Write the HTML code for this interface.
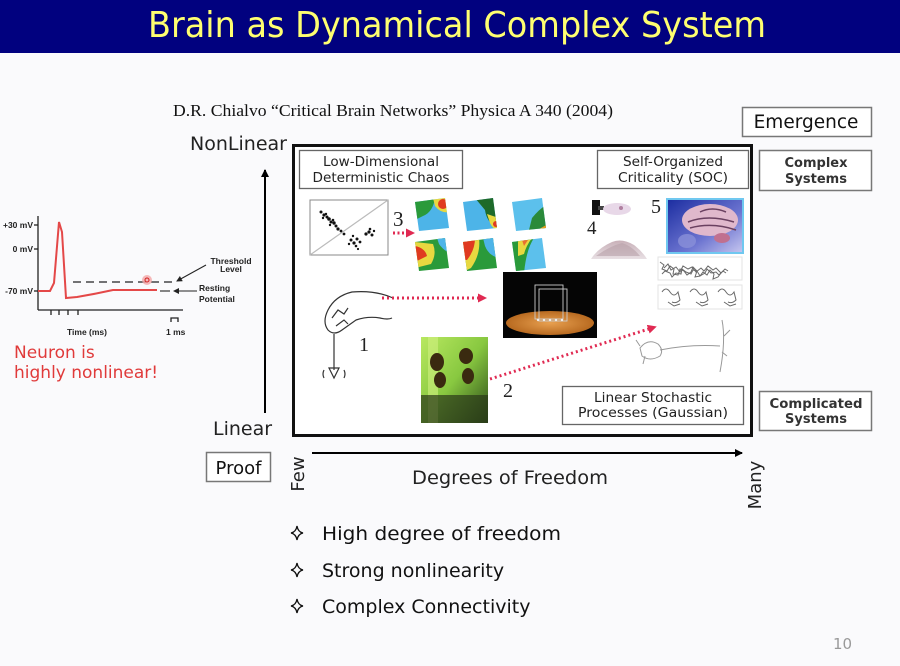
<!DOCTYPE html>
<html><head><meta charset="utf-8"><style>
html,body{margin:0;padding:0;background:#fafafc;}
svg{display:block;}
</style></head><body>
<svg width="900" height="666" viewBox="0 0 900 666" xmlns="http://www.w3.org/2000/svg">
<defs>
<marker id="ah" markerWidth="8" markerHeight="8" refX="7" refY="4" orient="auto" markerUnits="userSpaceOnUse"><path d="M0,0 L8,4 L0,8 Z" fill="#000"/></marker>
<marker id="ahs" markerWidth="6" markerHeight="6" refX="5" refY="3" orient="auto" markerUnits="userSpaceOnUse"><path d="M0,0 L6,3 L0,6 Z" fill="#222"/></marker>
<marker id="ahr" markerWidth="9" markerHeight="9" refX="4" refY="4.5" orient="auto" markerUnits="userSpaceOnUse"><path d="M0,0 L9,4.5 L0,9 Z" fill="#e02a52"/></marker>
<linearGradient id="brain" x1="0" y1="0" x2="1" y2="1"><stop offset="0" stop-color="#1a2ca0"/><stop offset="0.6" stop-color="#6c74d0"/><stop offset="1" stop-color="#c8c8f0"/></linearGradient>
<linearGradient id="ant" x1="0" y1="0" x2="1" y2="1"><stop offset="0" stop-color="#b8e860"/><stop offset="0.5" stop-color="#88c840"/><stop offset="1" stop-color="#2a4a18"/></linearGradient>
<radialGradient id="disc" cx="0.5" cy="0.5" r="0.5"><stop offset="0" stop-color="#e8a050"/><stop offset="1" stop-color="#b86a20"/></radialGradient>
<linearGradient id="sand" x1="0" y1="0" x2="0" y2="1"><stop offset="0" stop-color="#c8b0b8"/><stop offset="1" stop-color="#e8e0e4"/></linearGradient>
<clipPath id="m1"><polygon points="0,4 30,0 34,30 4,33"/></clipPath>
<path id="star" d="M0,-7 Q1,-1 6,0 Q1,1 0,7 Q-1,1 -6,0 Q-1,-1 0,-7 Z" fill="none" stroke="#111" stroke-width="1.3"/>
</defs>

<!-- Title bar -->
<rect x="0" y="0" width="900" height="53" fill="#01017f"/>
<text x="148" y="37" font-family="DejaVu Sans, sans-serif" font-size="36" fill="#ffff70" textLength="618" lengthAdjust="spacingAndGlyphs">Brain as Dynamical Complex System</text>

<!-- Citation -->
<text x="173" y="116" font-family="Liberation Serif, serif" font-size="17" fill="#111" textLength="440" lengthAdjust="spacingAndGlyphs">D.R. Chialvo “Critical Brain Networks” Physica A 340 (2004)</text>

<!-- Right boxes -->
<rect x="742.5" y="107.5" width="129" height="29" fill="#fff" stroke="#777" stroke-width="1.5"/>
<text x="806" y="128" text-anchor="middle" font-family="DejaVu Sans, sans-serif" font-size="18.5" fill="#111">Emergence</text>
<rect x="759.5" y="150.5" width="112" height="40" fill="#fff" stroke="#777" stroke-width="1.5"/>
<text x="816" y="167" text-anchor="middle" font-family="DejaVu Sans, sans-serif" font-weight="bold" font-size="13" fill="#333">Complex</text>
<text x="816" y="183" text-anchor="middle" font-family="DejaVu Sans, sans-serif" font-weight="bold" font-size="13" fill="#333">Systems</text>
<rect x="759.5" y="391.5" width="112" height="39" fill="#fff" stroke="#777" stroke-width="1.5"/>
<text x="816" y="408" text-anchor="middle" font-family="DejaVu Sans, sans-serif" font-weight="bold" font-size="13" fill="#333" textLength="93" lengthAdjust="spacingAndGlyphs">Complicated</text>
<text x="816" y="423" text-anchor="middle" font-family="DejaVu Sans, sans-serif" font-weight="bold" font-size="13" fill="#333">Systems</text>

<!-- Y axis -->
<text x="190" y="150" font-family="DejaVu Sans, sans-serif" font-size="18.5" fill="#222" textLength="97" lengthAdjust="spacingAndGlyphs">NonLinear</text>
<line x1="265" y1="413" x2="265" y2="170" stroke="#000" stroke-width="2" marker-end="url(#ah)"/>
<text x="213" y="435" font-family="DejaVu Sans, sans-serif" font-size="19" fill="#222">Linear</text>

<!-- Main box -->
<rect x="293.5" y="145.5" width="458" height="290" fill="#fff" stroke="#111" stroke-width="3"/>

<!-- inner label boxes -->
<rect x="299.5" y="150.5" width="163" height="38" fill="#fff" stroke="#666" stroke-width="1.3"/>
<text x="381" y="166" text-anchor="middle" font-family="DejaVu Sans, sans-serif" font-size="13.2" fill="#222" textLength="116" lengthAdjust="spacingAndGlyphs">Low-Dimensional</text>
<text x="381" y="182" text-anchor="middle" font-family="DejaVu Sans, sans-serif" font-size="13.2" fill="#222" textLength="137" lengthAdjust="spacingAndGlyphs">Deterministic Chaos</text>
<rect x="597.5" y="150.5" width="151" height="38" fill="#fff" stroke="#666" stroke-width="1.3"/>
<text x="673" y="166" text-anchor="middle" font-family="DejaVu Sans, sans-serif" font-size="13.2" fill="#222" textLength="100" lengthAdjust="spacingAndGlyphs">Self-Organized</text>
<text x="673" y="182" text-anchor="middle" font-family="DejaVu Sans, sans-serif" font-size="13.2" fill="#222" textLength="110" lengthAdjust="spacingAndGlyphs">Criticality (SOC)</text>
<rect x="562.5" y="386.5" width="181" height="38" fill="#fff" stroke="#666" stroke-width="1.3"/>
<text x="653" y="402" text-anchor="middle" font-family="DejaVu Sans, sans-serif" font-size="13.2" fill="#222" textLength="118" lengthAdjust="spacingAndGlyphs">Linear Stochastic</text>
<text x="653" y="417" text-anchor="middle" font-family="DejaVu Sans, sans-serif" font-size="13.2" fill="#222" textLength="150" lengthAdjust="spacingAndGlyphs">Processes  (Gaussian)</text>

<!-- scatter plot -->
<rect x="310" y="200" width="78" height="55" fill="#fff" stroke="#888" stroke-width="1"/>
<line x1="310" y1="255" x2="388" y2="200" stroke="#bbb" stroke-width="1.2"/>
<g fill="#111">
<circle cx="321" cy="212" r="1.5"/><circle cx="324" cy="215" r="1.6"/><circle cx="327" cy="217" r="1.5"/><circle cx="329" cy="219" r="1.8"/><circle cx="331" cy="222" r="1.5"/><circle cx="334" cy="223" r="1.7"/><circle cx="336" cy="226" r="1.5"/><circle cx="338" cy="229" r="1.6"/><circle cx="341" cy="231" r="1.4"/><circle cx="344" cy="234" r="1.4"/><circle cx="326" cy="214" r="1.2"/><circle cx="333" cy="220" r="1.3"/><circle cx="323" cy="218" r="1.2"/><circle cx="330" cy="225" r="1.2"/>
<circle cx="351" cy="240" r="1.5"/><circle cx="354" cy="243" r="1.6"/><circle cx="357" cy="239" r="1.5"/><circle cx="356" cy="246" r="1.3"/><circle cx="360" cy="242" r="1.4"/><circle cx="353" cy="236" r="1.2"/><circle cx="349" cy="244" r="1.2"/><circle cx="358" cy="249" r="1.1"/>
<circle cx="366" cy="234" r="1.6"/><circle cx="369" cy="232" r="1.6"/><circle cx="372" cy="235" r="1.5"/><circle cx="370" cy="229" r="1.3"/><circle cx="374" cy="231" r="1.2"/>
</g>
<text x="393" y="226" font-family="Liberation Serif, serif" font-size="21" fill="#222">3</text>
<line x1="393" y1="233" x2="410" y2="233" stroke="#e02a52" stroke-width="3" stroke-dasharray="2 2.5" marker-end="url(#ahr)"/>

<!-- maps -->
<g transform="translate(415,198)">
<g clip-path="url(#m1)"><rect width="36" height="36" fill="#4db4e8"/><path d="M0,0 L20,0 Q18,14 8,18 L0,22Z" fill="#2a9a3a"/><path d="M18,0 L36,0 L36,14 Q26,16 20,8Z" fill="#e8d840"/><circle cx="28" cy="6" r="5" fill="#e03a20"/></g></g>
<g transform="translate(463,198)">
<g clip-path="url(#m1)"><rect width="36" height="36" fill="#4db4e8"/><path d="M12,0 L36,0 L36,30 Q24,26 22,12Z" fill="#1e6a2a"/><path d="M24,16 L36,20 L36,34 Q28,30 26,22Z" fill="#e8d840"/><circle cx="33" cy="26" r="3" fill="#e03a20"/></g></g>
<g transform="translate(512,198)">
<g clip-path="url(#m1)"><rect width="36" height="36" fill="#5cc0ec"/><path d="M16,36 L20,20 Q28,10 36,6 L36,36Z" fill="#2a8a3a"/><path d="M22,34 L36,26 L36,36Z" fill="#e8a020"/><path d="M24,36 L36,30 L36,36Z" fill="#d02010"/></g></g>
<g transform="translate(415,238)">
<g clip-path="url(#m1)"><rect width="36" height="36" fill="#2a9a3a"/><path d="M0,4 L18,6 Q22,16 16,26 L0,30Z" fill="#e8d840"/><path d="M0,8 Q10,10 12,18 L0,24Z" fill="#e03a20"/><path d="M22,0 L36,0 L36,16 Q28,12 24,6Z" fill="#4db4e8"/></g></g>
<g transform="translate(463,238)">
<g clip-path="url(#m1)"><rect width="36" height="36" fill="#2a9a3a"/><path d="M0,0 L16,0 Q18,16 8,30 L0,34Z" fill="#e8d840"/><path d="M0,0 L12,0 Q12,12 4,22 L0,22Z" fill="#e03a20"/><path d="M20,0 L36,0 L36,20 Q26,18 22,8Z" fill="#4db4e8"/></g></g>
<g transform="translate(512,238)">
<g clip-path="url(#m1)"><rect width="36" height="36" fill="#5cc0ec"/><path d="M0,0 L22,0 Q14,12 12,36 L0,36Z" fill="#2a9a3a"/><path d="M6,0 L20,0 Q14,8 12,16 L6,18Z" fill="#e8d840"/><path d="M10,2 L16,2 L12,8Z" fill="#e87030"/></g></g>

<!-- 4 : SOC objects -->
<rect x="592" y="200" width="8" height="15" fill="#111"/>
<rect x="598" y="206" width="6" height="4" fill="#444"/>
<ellipse cx="617" cy="209" rx="14" ry="6" fill="#e8d8e8"/>
<circle cx="621" cy="208" r="2" fill="#b080a0"/>
<text x="587" y="234" font-family="Liberation Serif, serif" font-size="19" fill="#222">4</text>
<path d="M591,259 Q598,248 612,242 Q622,238 634,245 Q642,251 647,259 Z" fill="url(#sand)"/>
<path d="M596,256 Q610,246 622,243 Q632,246 640,256 Z" fill="#b8a0a8" opacity="0.6"/>

<!-- 5 brain -->
<text x="651" y="213" font-family="Liberation Serif, serif" font-size="20" fill="#222">5</text>
<rect x="667" y="199" width="76" height="54" fill="url(#brain)" stroke="#70c8f0" stroke-width="2"/>
<ellipse cx="710" cy="220" rx="28" ry="16" fill="#e0b8cc"/>
<path d="M688,222 Q708,214 734,222 M690,228 Q712,222 736,230 M700,212 Q712,206 726,212" stroke="#6a4060" stroke-width="1.5" fill="none"/>
<ellipse cx="722" cy="238" rx="8" ry="5" fill="#c07090"/>
<ellipse cx="687" cy="241" rx="9" ry="7" fill="#8a90d8" opacity="0.8"/>

<!-- network sketches -->
<g stroke="#444" stroke-width="1" fill="none" opacity="0.8">
<rect x="658" y="257" width="84" height="23" stroke="#ddd"/>
<path d="M660,262 l4,3 l-2,4 l5,2 l3,-5 l4,3 l-1,5 l5,1 l2,-6 l4,2 l3,4 l4,-3 l2,-5 l4,4 l-2,6 l5,-1 l3,-4 l4,3 l3,-5 l4,4 l-1,5 l5,-2 l3,-4"/>
<path d="M662,274 l3,-3 l5,2 l2,4 l4,-4 l5,1 l1,-5 l4,3 l5,2 l2,-4 l4,1 l3,5 l5,-3 l2,-4 l4,4 l5,-1 l3,3 l4,-4 l3,2"/>
<path d="M664,268 l4,-4 l3,6 l5,-3 l4,5 l3,-6 l5,3 l4,-2 l4,5 l5,-4 l3,3 l4,-5 l5,4 l3,-2 l5,5 l4,-4 l3,2"/>
<rect x="658" y="285" width="84" height="24" stroke="#ddd"/>
<path d="M662,292 q4,-6 8,0 q4,6 8,0 l2,8 q-4,4 -8,2 M668,302 l6,4 l6,-2"/>
<path d="M690,292 q4,-6 8,0 q4,6 8,0 l2,8 q-4,4 -8,2 M696,302 l6,4 l6,-2"/>
<path d="M718,292 q4,-6 8,0 q4,6 8,0 l2,8 q-4,4 -8,2 M724,302 l6,4 l6,-2"/>
</g>

<!-- rat sketch -->
<g stroke="#999" stroke-width="1" fill="none">
<path d="M640,348 q8,-10 18,-4 q6,6 2,12 q-10,6 -18,0 z"/>
<path d="M660,350 Q690,344 720,346"/>
<path d="M722,320 Q726,340 720,372 M724,336 l6,-6 M722,352 l5,4"/>
<path d="M636,340 l4,6 M645,356 l-2,8"/>
</g>

<!-- pendulum black box -->
<rect x="503" y="272" width="94" height="66" fill="#050505"/>
<ellipse cx="550" cy="323" rx="44" ry="12" fill="url(#disc)"/>
<g stroke="#ccc" stroke-width="0.9" fill="none">
<rect x="535" y="285" width="28" height="34"/>
<rect x="539" y="289" width="28" height="32"/>
</g>
<g fill="#eee"><circle cx="538" cy="320" r="1.2"/><circle cx="544" cy="320" r="1.2"/><circle cx="550" cy="320" r="1.2"/><circle cx="556" cy="320" r="1.2"/><circle cx="562" cy="320" r="1.2"/></g>

<!-- hand sketch -->
<g stroke="#333" stroke-width="1.2" fill="none">
<path d="M393,298 Q375,290 352,292 Q335,296 328,310 Q322,322 328,330 Q334,336 342,330 L356,320 Q368,316 380,318 Q388,320 392,318"/>
<path d="M332,318 l6,-8 l6,4 l4,-6 M336,326 l8,-6 l4,4"/>
<path d="M334,334 L334,370"/>
<path d="M329,368 l5,10 l5,-10 z"/>
<path d="M324,370 q-2,4 0,8 M344,370 q2,4 0,8"/>
</g>
<text x="359" y="351" font-family="Liberation Serif, serif" font-size="20" fill="#222">1</text>
<line x1="382" y1="298" x2="482" y2="298" stroke="#e02a52" stroke-width="3" stroke-dasharray="2 3" marker-end="url(#ahr)"/>

<!-- ants image -->
<rect x="421" y="337" width="67" height="86" fill="url(#ant)"/>
<rect x="428" y="337" width="10" height="86" fill="#d0f080" opacity="0.6"/>
<g fill="#3a2a10">
<ellipse cx="437" cy="362" rx="7" ry="9"/><ellipse cx="440" cy="380" rx="6" ry="8"/><ellipse cx="466" cy="356" rx="7" ry="8"/><ellipse cx="468" cy="376" rx="6" ry="8"/>
</g>
<rect x="421" y="395" width="67" height="28" fill="#2a3818" opacity="0.7"/>
<text x="503" y="397" font-family="Liberation Serif, serif" font-size="20" fill="#222">2</text>
<line x1="490" y1="379" x2="652" y2="328" stroke="#e02a52" stroke-width="3" stroke-dasharray="2 3" marker-end="url(#ahr)"/>

<!-- bottom axis -->
<rect x="206.5" y="452.5" width="64" height="29" fill="#fff" stroke="#777" stroke-width="1.5"/>
<text x="238.5" y="474" text-anchor="middle" font-family="DejaVu Sans, sans-serif" font-size="18" fill="#111">Proof</text>
<line x1="312" y1="453" x2="742" y2="453" stroke="#000" stroke-width="2" marker-end="url(#ah)"/>
<text transform="translate(304,474) rotate(-90)" text-anchor="middle" font-family="DejaVu Sans, sans-serif" font-size="18" fill="#222">Few</text>
<text transform="translate(761,485) rotate(-90)" text-anchor="middle" font-family="DejaVu Sans, sans-serif" font-size="18" fill="#222">Many</text>
<text x="412" y="484" font-family="DejaVu Sans, sans-serif" font-size="19" fill="#222" textLength="196" lengthAdjust="spacingAndGlyphs">Degrees of Freedom</text>

<!-- bullets -->
<use href="#star" x="297" y="533"/>
<use href="#star" x="297" y="570"/>
<use href="#star" x="297" y="606"/>
<g font-family="DejaVu Sans, sans-serif" font-size="19" fill="#111">
<text x="322" y="540" textLength="239" lengthAdjust="spacingAndGlyphs">High degree of freedom</text>
<text x="322" y="577">Strong nonlinearity</text>
<text x="322" y="613">Complex Connectivity</text>
</g>
<text x="833" y="649" font-family="DejaVu Sans, sans-serif" font-size="15" fill="#999">10</text>

<!-- neuron action potential -->
<g font-family="Liberation Sans, sans-serif" font-weight="bold" font-size="8.5" fill="#222">
<text x="33" y="228" text-anchor="end">+30 mV</text>
<text x="33" y="252" text-anchor="end">0 mV</text>
<text x="33" y="294" text-anchor="end">-70 mV</text>
<text x="67" y="335">Time (ms)</text>
<text x="166" y="335">1 ms</text>
<text x="231" y="264" text-anchor="middle">Threshold</text>
<text x="231" y="272" text-anchor="middle">Level</text>
<text x="199" y="291">Resting</text>
<text x="199" y="302">Potential</text>
</g>
<g stroke="#222" stroke-width="1.3" fill="none">
<line x1="38" y1="216" x2="38" y2="310"/>
<line x1="38" y1="310" x2="183" y2="310"/>
<line x1="34" y1="225" x2="38" y2="225"/><line x1="34" y1="249" x2="38" y2="249"/><line x1="34" y1="291" x2="38" y2="291"/>
<line x1="51" y1="310" x2="51" y2="315"/><line x1="59" y1="310" x2="59" y2="315"/><line x1="68" y1="310" x2="68" y2="315"/><line x1="78" y1="310" x2="78" y2="315"/>
<path d="M171,322 L171,318 L178,318 L178,322"/>
<line x1="73" y1="282" x2="172" y2="282" stroke-dasharray="8 5"/>
<line x1="160" y1="291" x2="170" y2="291" stroke="#444"/>
</g>
<line x1="197" y1="291" x2="174" y2="291" stroke="#222" stroke-width="1" marker-end="url(#ahs)"/>
<line x1="206" y1="265" x2="177" y2="281" stroke="#222" stroke-width="1" marker-end="url(#ahs)"/>
<path d="M38,291 L50,291 L54,283 L59,222 L62,232 L66,298 L77,297 Q95,294 113,290 L157,290" stroke="#e44848" stroke-width="2" fill="none"/>
<circle cx="147" cy="280" r="5" fill="#f4a8a8" opacity="0.8"/>
<circle cx="147" cy="280" r="2" fill="none" stroke="#d02020" stroke-width="1"/>

<text x="14" y="358" font-family="DejaVu Sans, sans-serif" font-size="17" fill="#e03a3a">Neuron is</text>
<text x="14" y="378" font-family="DejaVu Sans, sans-serif" font-size="17" fill="#e03a3a">highly nonlinear!</text>
</svg>
</body></html>
